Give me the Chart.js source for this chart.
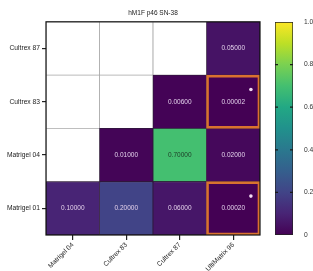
<!DOCTYPE html>
<html><head><meta charset="utf-8">
<script src="https://cdn.jsdelivr.net/npm/chart.js@4.4.0/dist/chart.umd.min.js"></script>
<style>html,body{margin:0;padding:0;background:#fff;} #wrap{position:relative;width:313px;height:271px;} canvas{position:absolute;top:0;}</style>
</head><body>
<div id="wrap">
<canvas id="main" width="313" height="271" style="left:0"></canvas>
<canvas id="cbar" width="51" height="271" style="left:262px"></canvas>
</div>
<script>
const chartTitle = 'hM1F p46 SN-38';
const colLabels = ['Matrigel 04', 'Cultrex 83', 'Cultrex 87', 'UltiMatrix 96'];
const rowLabels = ['Matrigel 01', 'Matrigel 04', 'Cultrex 83', 'Cultrex 87']; // bottom to top
const matrigel01 = [0.1, 0.2, 0.06, 0.0002];
const matrigel04 = [null, 0.01, 0.7, 0.02];
const cultrex83 = [null, null, 0.006, 0.00002];
const cultrex87 = [null, null, null, 0.05];
const sigMatrigel01 = [false, false, false, true];
const sigMatrigel04 = [false, false, false, false];
const sigCultrex83 = [false, false, false, true];
const sigCultrex87 = [false, false, false, false];
const colorbarTicks = [0, 0.2, 0.4, 0.6, 0.8, 1.0];

const FONT = "'Liberation Sans', Arial, Helvetica, sans-serif";
const viridisStops = ['#440154','#482475','#414487','#355f8d','#2a788e','#21918c','#22a884','#44bf70','#7ad151','#bddf26','#fde725'];
function hex2rgb(h){return [parseInt(h.slice(1,3),16),parseInt(h.slice(3,5),16),parseInt(h.slice(5,7),16)];}
function viridis(t){
  t = Math.max(0, Math.min(1, t));
  const p = t * (viridisStops.length - 1);
  const i = Math.min(Math.floor(p), viridisStops.length - 2);
  const f = p - i;
  const a = hex2rgb(viridisStops[i]), b = hex2rgb(viridisStops[i+1]);
  const c = a.map((v,k)=>Math.round(v + (b[k]-v)*f));
  return 'rgb(' + c.join(',') + ')';
}

const rows = [matrigel01, matrigel04, cultrex83, cultrex87];
const sigRows = [sigMatrigel01, sigMatrigel04, sigCultrex83, sigCultrex87];
const datasets = [];
rows.forEach((vals, r) => {
  datasets.push({
    type: 'bar', label: rowLabels[r], isCell: true, values: vals,
    data: vals.map(() => [r, r + 1]),
    backgroundColor: vals.map(v => v == null ? '#ffffff' : viridis(v)),
    borderColor: vals.map(v => v == null ? '#a8a8a8' : '#2e1a3a'),
    borderWidth: 0.8, borderSkipped: false,
    grouped: false, barPercentage: 1, categoryPercentage: 1, order: 3
  });
});
sigRows.forEach((sig, r) => {
  if (!sig.some(Boolean)) return;
  datasets.push({
    type: 'bar', isSig: true, data: sig.map(s => s ? [r, r + 1] : null),
    backgroundColor: 'rgba(0,0,0,0)', borderColor: '#d9722f', borderWidth: 2,
    borderSkipped: false, grouped: false, barPercentage: 1, categoryPercentage: 1, order: 2
  });
});

const cellLabels = {
  id: 'cellLabels',
  afterDatasetsDraw(chart) {
    const ctx = chart.ctx, a = chart.chartArea;
    chart.data.datasets.forEach((ds, i) => {
      const meta = chart.getDatasetMeta(i);
      if (ds.isCell) {
        meta.data.forEach((el, j) => {
          const v = ds.values[j];
          if (v == null) return;
          ctx.save();
          ctx.font = '6.5px ' + FONT;
          ctx.fillStyle = v > 0.5 ? '#1e3a26' : '#e2d0ea';
          ctx.textAlign = 'center'; ctx.textBaseline = 'middle';
          ctx.fillText(v.toFixed(5), el.x, (el.y + el.base) / 2);
          ctx.restore();
        });
      } else if (ds.isSig) {
        meta.data.forEach((el, j) => {
          if (ds.data[j] == null) return;
          const w = el.width, top = Math.min(el.y, el.base), h = Math.abs(el.base - el.y);
          ctx.save();
          ctx.fillStyle = '#f3ddf3';
          ctx.beginPath();
          ctx.arc(el.x + w * 0.33, top + h * 0.27, 1.8, 0, Math.PI * 2);
          ctx.fill();
          ctx.restore();
        });
      }
    });
    ctx.save();
    ctx.strokeStyle = '#111'; ctx.lineWidth = 1.2;
    ctx.strokeRect(a.left, a.top, a.right - a.left, a.bottom - a.top);
    ctx.restore();
  }
};

const tickFont = {family: FONT, size: 6.7};
new Chart(document.getElementById('main'), {
  type: 'bar',
  data: {labels: colLabels, datasets},
  options: {
    responsive: false, animation: false,
    layout: {padding: {left: 0, right: 53, top: 0, bottom: 0}},
    plugins: {
      legend: {display: false}, tooltip: {enabled: false},
      title: {display: true, text: chartTitle, fullSize: false, color: '#222',
        font: {family: FONT, size: 6.5, weight: 'normal'}, padding: {top: 9, bottom: 5}}
    },
    scales: {
      x: {type: 'category', offset: true,
        grid: {offset: false, drawOnChartArea: false, drawTicks: true, tickLength: 5, color: '#222', lineWidth: 1.2},
        border: {display: false},
        ticks: {minRotation: 45, maxRotation: 45, autoSkip: false, padding: 1, color: '#222', font: tickFont},
        afterFit: s => { s.height = 36; }
      },
      y: {type: 'linear', min: 0, max: 4,
        afterBuildTicks: s => { s.ticks = [0.5, 1.5, 2.5, 3.5].map(v => ({value: v})); },
        grid: {drawOnChartArea: false, drawTicks: true, tickLength: 4, color: '#222', lineWidth: 1.2},
        border: {display: false},
        ticks: {callback: v => rowLabels[Math.floor(v)], padding: 2, color: '#222', font: tickFont},
        afterFit: s => { s.width = 46; }
      }
    }
  },
  plugins: [cellLabels]
});

const cbarMarks = {
  id: 'cbarMarks',
  afterDatasetsDraw(chart) {
    const ctx = chart.ctx, a = chart.chartArea, y = chart.scales.y;
    ctx.save();
    ctx.strokeStyle = '#1a1a1a'; ctx.lineWidth = 1.2;
    colorbarTicks.forEach(v => {
      if (v === 0 || v === 1) return;
      const py = y.getPixelForValue(v);
      ctx.beginPath();
      ctx.moveTo(a.left, py); ctx.lineTo(a.left + 3, py);
      ctx.moveTo(a.right - 3, py); ctx.lineTo(a.right, py);
      ctx.stroke();
    });
    ctx.restore();
  }
};

new Chart(document.getElementById('cbar'), {
  type: 'bar',
  data: {labels: [''], datasets: [{
    data: [[0, 1]],
    backgroundColor: (c) => {
      const a = c.chart.chartArea; if (!a) return '#21918c';
      const g = c.chart.ctx.createLinearGradient(0, a.bottom, 0, a.top);
      viridisStops.forEach((s, i) => g.addColorStop(i / (viridisStops.length - 1), s));
      return g;
    },
    borderColor: '#222', borderWidth: 1, borderSkipped: false,
    barPercentage: 1, categoryPercentage: 1
  }]},
  options: {
    responsive: false, animation: false,
    layout: {padding: {top: 22, bottom: 36, left: 13, right: 0}},
    plugins: {legend: {display: false}, tooltip: {enabled: false}},
    scales: {
      x: {display: false},
      y: {position: 'right', min: 0, max: 1,
        afterBuildTicks: s => { s.ticks = colorbarTicks.map(v => ({value: v})); },
        ticks: {callback: v => v === 0 ? '0' : v.toFixed(1), padding: 3, color: '#333', font: tickFont},
        grid: {display: false}, border: {display: false},
        afterFit: s => { s.width = 20; }
      }
    }
  },
  plugins: [cbarMarks]
});
</script>
</body></html>
